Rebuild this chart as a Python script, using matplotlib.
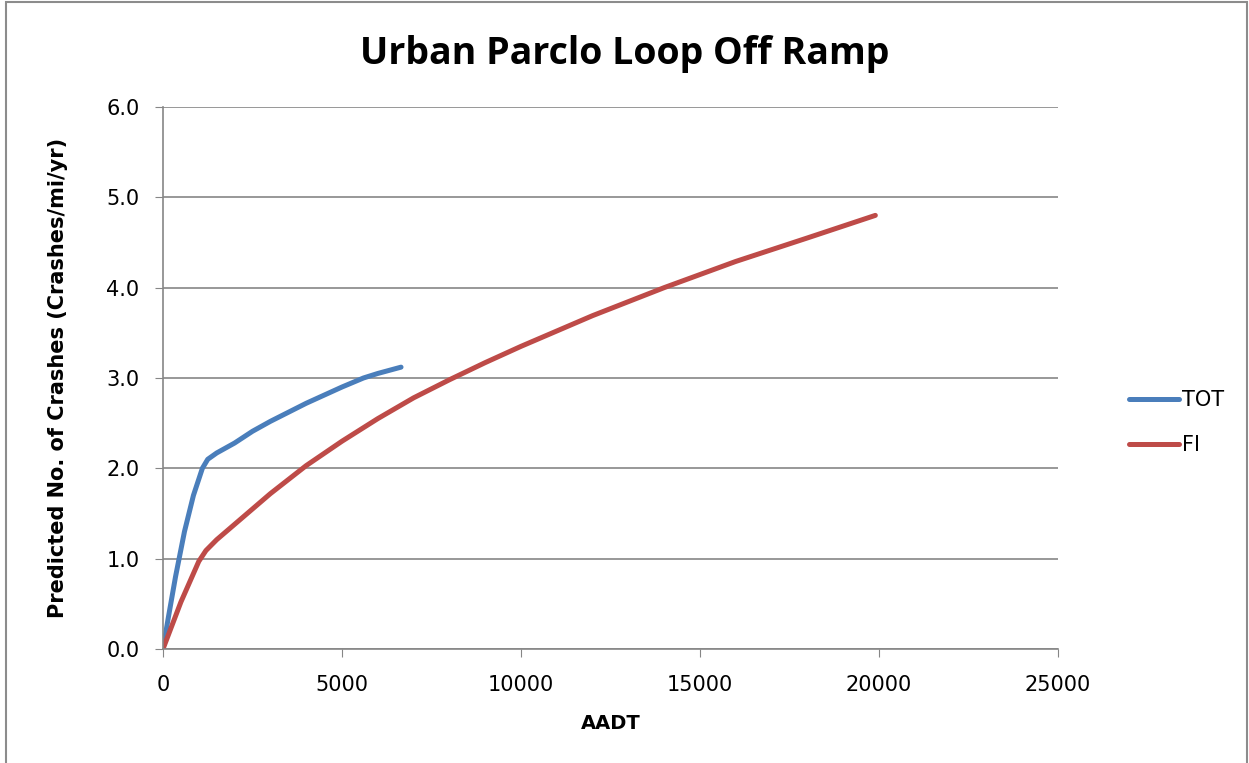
import matplotlib
matplotlib.use('Agg')

import matplotlib.pyplot as plt
from matplotlib.patches import Rectangle

# Datos
tot_aadt = [0, 150, 350, 600, 850, 1000, 1100, 1250, 1500, 2000, 2500, 3000,
            3500, 4000, 4500, 5000, 5600, 6000, 6650]
tot_crashes = [0.0, 0.35, 0.8, 1.3, 1.7, 1.88, 2.0, 2.1, 2.17, 2.28, 2.41, 2.52,
               2.62, 2.72, 2.81, 2.9, 3.0, 3.05, 3.12]

fi_aadt = [0, 500, 1000, 1200, 1500, 2000, 2500, 3000, 4000, 5000, 6000, 7000,
           8000, 9000, 10000, 12000, 14000, 16000, 18000, 19900]
fi_crashes = [0.0, 0.52, 0.97, 1.09, 1.21, 1.38, 1.55, 1.72, 2.03, 2.3, 2.55,
              2.78, 2.98, 3.17, 3.35, 3.69, 4.0, 4.29, 4.55, 4.8]

x_ticks = [0, 5000, 10000, 15000, 20000, 25000]
y_ticks = [0.0, 1.0, 2.0, 3.0, 4.0, 5.0, 6.0]

fig = plt.figure(figsize=(12.49, 7.63), dpi=100)
ax = fig.add_axes([0.1305, 0.1494, 0.7165, 0.7104])

# Borde exterior del grafico (estilo Excel)
fig.patches.append(Rectangle((6 / 1249, -0.01), 1241 / 1249, 1.0 - 2 / 763 + 0.01,
                             transform=fig.transFigure, fill=False,
                             edgecolor='#8c8c8c', linewidth=1.5))

ax.plot(tot_aadt, tot_crashes, color='#4a7ebb', linewidth=3.6, label='TOT',
        solid_capstyle='round', solid_joinstyle='round')
ax.plot(fi_aadt, fi_crashes, color='#be4b48', linewidth=3.6, label='FI',
        solid_capstyle='round', solid_joinstyle='round')

ax.set_xlim(0, 25000)
ax.set_ylim(0, 6.0)
ax.set_xticks(x_ticks)
ax.set_yticks(y_ticks)
ax.set_xticklabels([str(t) for t in x_ticks])
ax.set_yticklabels([f'{t:.1f}' for t in y_ticks])
ax.tick_params(labelsize=15, color='#868686', length=6, direction='out', pad=11)
ax.tick_params(axis='x', pad=13)
ax.grid(axis='y', color='#868686', linewidth=1.2)
ax.set_axisbelow(True)

for side in ['top', 'right']:
    ax.spines[side].set_visible(False)
for side in ['left', 'bottom']:
    ax.spines[side].set_color('#868686')
    ax.spines[side].set_linewidth(1.2)

ax.set_xlabel('AADT', fontsize=14, fontweight='bold')
ax.set_ylabel('Predicted No. of Crashes (Crashes/mi/yr)', fontsize=15,
              fontweight='bold')
ax.xaxis.set_label_coords(0.5, -0.12)
ax.yaxis.set_label_coords(-0.106, 0.5)

fig.text(0.5, 0.929, 'Urban Parclo Loop Off Ramp', ha='center', va='center',
         fontsize=27, fontweight='bold', family='Open Sans')

ax.legend(loc='center left', bbox_to_anchor=(1.058, 0.418), frameon=False,
          fontsize=15, handlelength=2.4, handletextpad=0.15, labelspacing=1.2)

plt.savefig('out.png', dpi=100)
plt.close()
